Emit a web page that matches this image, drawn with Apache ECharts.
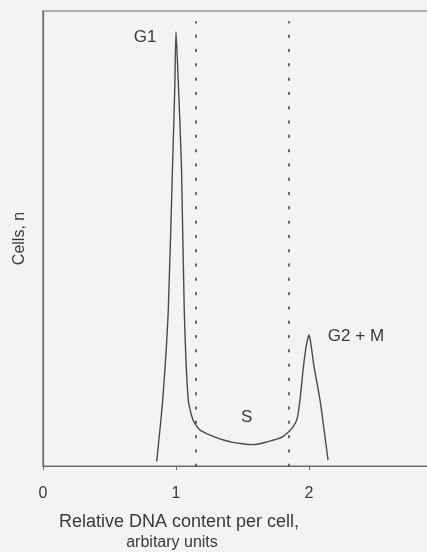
<!DOCTYPE html>
<html>
<head>
<meta charset="utf-8">
<script src="https://cdn.jsdelivr.net/npm/echarts@6/dist/echarts.min.js"></script>
<style>
  html, body { margin:0; padding:0; background:#f3f3f2; }
  #chart { width:427px; height:552px; }
</style>
</head>
<body>
<div id="chart"></div>
<script>
// DNA content (arbitrary units) vs cell count
const dnaContent = [0.855, 0.90, 0.942, 0.975, 0.99, 1.0, 1.015, 1.041, 1.062, 1.092, 1.128, 1.18, 1.24, 1.308, 1.37, 1.429, 1.5, 1.579, 1.63, 1.684, 1.759, 1.80, 1.835, 1.88, 1.91, 1.932, 1.957, 1.98, 2.0, 2.012, 2.038, 2.083, 2.143];
const cellCount  = [1, 14.5, 34.3, 67, 82, 95.5, 86, 66, 34.3, 14.5, 10.1, 7.9, 7.0, 6.2, 5.6, 5.2, 4.9, 4.7, 4.9, 5.3, 5.9, 6.4, 7.2, 8.6, 10.3, 14.5, 21.5, 26.5, 28.8, 27.3, 21.8, 14.5, 1.3];
const sPhaseBounds = [1.15, 1.85];
const xTicks = [0, 1, 2];

const textColor = '#3a3a3a';
const lineColor = '#4a4a4a';

let chart = echarts.init(document.getElementById('chart'));

const option = {
    backgroundColor:'#f3f3f2',
    textStyle:{
        fontFamily:'Liberation Sans'
    },
    grid:{
        show:true,
        borderColor:'#6a6a6a',
        borderWidth:1.2,
        left:43,
        top:11,
        right:-15,
        bottom:86,
        outerBoundsMode:'none',
        containLabel:false
    },
    xAxis:{
        type:'value',
        min:0,
        max:3,
        interval:1,
        axisLine:{
            show:true,
            lineStyle:{ color:'#6a6a6a', width:1.2 }
        },
        axisTick:{
            show:true,
            length:4,
            lineStyle:{ color:'#6a6a6a' }
        },
        splitLine:{ show:false },
        axisLabel:{
            color:textColor,
            fontSize:16,
            margin:20,
            formatter:function (v) {
                return xTicks.indexOf(v) >= 0 ? String(v) : '';
            }
        }
    },
    yAxis:{
        type:'value',
        min:0,
        max:100,
        name:'Cells, n',
        nameLocation:'middle',
        nameRotate:90,
        nameGap:15,
        nameTextStyle:{
            color:textColor,
            fontSize:16
        },
        axisLine:{
            show:true,
            lineStyle:{ color:'#6a6a6a', width:1.2 }
        },
        axisTick:{ show:false },
        axisLabel:{ show:false },
        splitLine:{ show:false }
    },
    series:[{
        type:'line',
        data:dnaContent.map((x, i) => [x, cellCount[i]]),
        symbol:'none',
        smooth:0.2,
        lineStyle:{
            color:lineColor,
            width:1.4
        },
        markLine:{
            silent:true,
            symbol:'none',
            label:{ show:false },
            lineStyle:{
                color:'#555',
                width:1.8,
                type:[1.6, 12.7],
                cap:'round'
            },
            data:sPhaseBounds.map(x => [{ coord:[x, 0] }, { coord:[x, 97.6] }])
        },
        markPoint:{
            silent:true,
            symbol:'circle',
            symbolSize:0,
            label:{
                show:true,
                position:'inside',
                color:textColor,
                fontSize:17,
                formatter:'{b}'
            },
            data:[
                { name:'G1', coord:[0.767, 94.3] },
                { name:'S', coord:[1.532, 10.8] },
                { name:'G2 + M', coord:[2.353, 28.6] }
            ]
        }
    }],
    graphic:[
        {
            type:'text',
            x:179,
            y:522,
            style:{
                text:'Relative DNA content per cell,',
                fill:textColor,
                font:'18px "Liberation Sans"',
                textAlign:'center',
                textVerticalAlign:'middle'
            }
        },
        {
            type:'text',
            x:172,
            y:543,
            style:{
                text:'arbitary units',
                fill:textColor,
                font:'16px "Liberation Sans"',
                textAlign:'center',
                textVerticalAlign:'middle'
            }
        }
    ]
};

chart.setOption(option);
window.addEventListener("resize",function(){
    chart.resize();
});
</script>
</body>
</html>
